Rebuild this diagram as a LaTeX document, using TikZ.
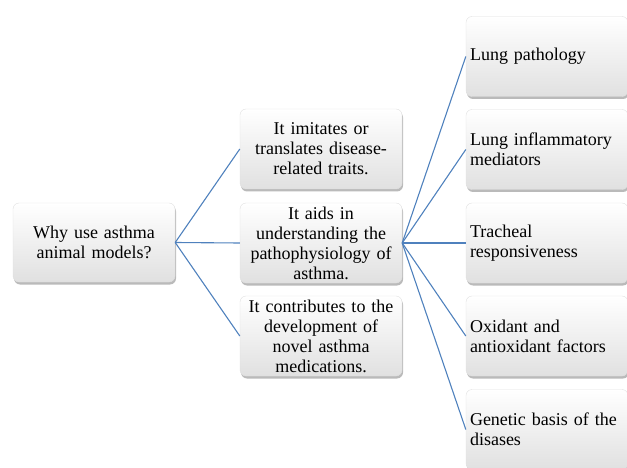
\documentclass[tikz,border=0pt]{standalone}
\usepackage{fontspec}
\setmainfont{Liberation Serif}
\usetikzlibrary{shadows}
\definecolor{linkblue}{RGB}{79,129,189}
\tikzset{
  box/.style={rectangle, rounded corners=6pt, minimum width=162pt, minimum height=80pt,
    top color=white, bottom color=black!12, draw=black!12, line width=0.4pt,
    drop shadow={shadow xshift=1pt, shadow yshift=-2.5pt, opacity=0.45, fill=black!60},
    font=\fontsize{18}{20}\selectfont, inner sep=0pt},
  cbox/.style={box, align=center, text width=156pt},
  lbox/.style={box, align=left, text width=154pt},
  link/.style={draw=linkblue, line width=1.1pt}
}
\begin{document}
\begin{tikzpicture}[x=1pt,y=-1pt]
\useasboundingbox (0,0) rectangle (627,468);
\node[cbox, minimum height=79pt] (root) at (94,242.5) {Why use asthma\\animal models?};
\node[cbox] (m1) at (321,149) {It imitates or\\translates disease-\\related traits.};
\node[cbox] (m2) at (321,243) {It aids in\\understanding the\\pathophysiology of\\asthma.};
\node[cbox] (m3) at (321,336) {It contributes to the\\development of\\novel asthma\\medications.};
\node[lbox] (r1) at (547,56.5) {Lung pathology};
\node[lbox] (r2) at (547,149.5) {Lung inflammatory\\mediators};
\node[lbox] (r3) at (547,243) {Tracheal\\responsiveness};
\node[lbox] (r4) at (547,336) {Oxidant and\\antioxidant factors};
\node[lbox] (r5) at (547,429.5) {Genetic basis of the\\disases};
\foreach \m in {m1,m2,m3} \draw[link] (root.east) -- (\m.west);
\foreach \r in {r1,r2,r3,r4,r5} \draw[link] (m2.east) -- (\r.west);
\end{tikzpicture}
\end{document}
